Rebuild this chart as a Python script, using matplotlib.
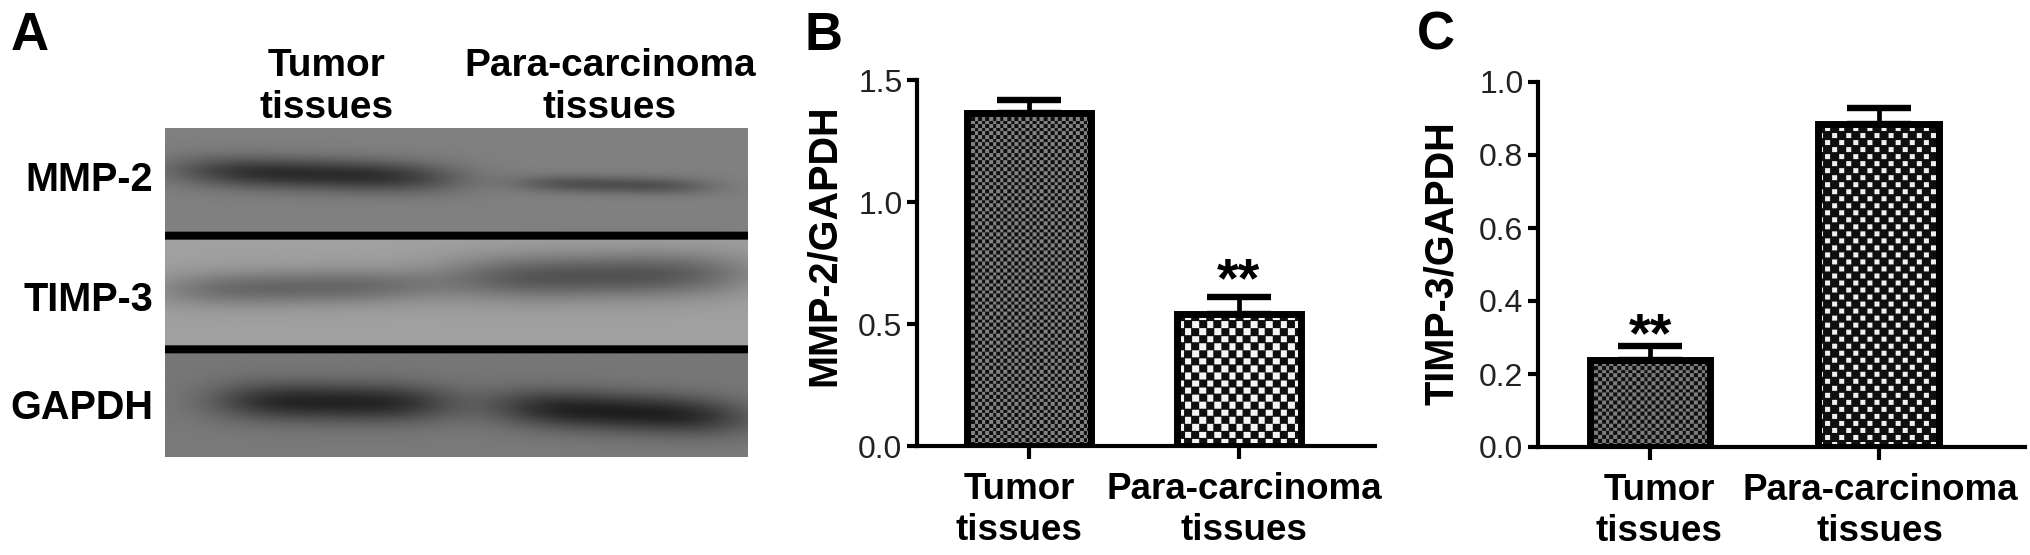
# -*- coding: utf-8 -*-
"""Western blot panel plus two bar charts (MMP-2 and TIMP-3 relative to GAPDH)."""
import numpy as np
import matplotlib
matplotlib.use("Agg")
import matplotlib.pyplot as plt
from matplotlib.transforms import ScaledTranslation

W, H = 2031, 555
DPI = 100

plt.rcParams["font.family"] = ["Liberation Sans", "DejaVu Sans"]

CATEGORIES = ["Tumor\ntissues", "Para-carcinoma\ntissues"]

MMP2_MEAN = [1.363, 0.543]
MMP2_ERR = [0.055, 0.068]
MMP2_TICKS = [0.0, 0.5, 1.0, 1.5]

TIMP3_MEAN = [0.237, 0.886]
TIMP3_ERR = [0.04, 0.043]
TIMP3_TICKS = [0.0, 0.2, 0.4, 0.6, 0.8, 1.0]

BLOT_ROWS = ["MMP-2", "TIMP-3", "GAPDH"]
# cx, cy, half width, half height, tilt, depth (fractions of the blot, grey levels)
BLOT_BANDS = [
    (0.26, 0.140, 0.235, 0.047, 0.05, 85),
    (0.77, 0.172, 0.165, 0.026, 0.03, 50),
    (0.23, 0.485, 0.235, 0.052, -0.03, 58),
    (0.74, 0.450, 0.255, 0.066, -0.03, 78),
    (0.29, 0.835, 0.200, 0.058, 0.02, 85),
    (0.78, 0.865, 0.215, 0.058, 0.08, 90),
]
BLOT_BG = [(0.0, 128), (0.326, 128), (0.336, 160), (0.665, 160), (0.675, 118), (1.0, 122)]
BLOT_LINES = [0.327, 0.673]


def add_axes_px(fig, x0, y0, x1, y1):
    # pixel box with y measured from the top
    return fig.add_axes([x0 / W, 1 - y1 / H, (x1 - x0) / W, (y1 - y0) / H])


def text_px(fig, x, y, s, **kw):
    fig.text(x / W, 1 - y / H, s, **kw)


def draw_blot(fig):
    ax = add_axes_px(fig, 165, 128, 748, 457)
    yy, xx = np.mgrid[0:1:330j, 0:1:584j]
    img = np.interp(yy, [b[0] for b in BLOT_BG], [b[1] for b in BLOT_BG])
    for cx, cy, hx, hy, tilt, depth in BLOT_BANDS:
        dx = (xx - cx) / hx
        dy = (yy - cy - tilt * (xx - cx)) / hy
        img = img - depth * np.exp(-np.abs(dx) ** 3.5) * np.exp(-dy ** 2)
    for ly in BLOT_LINES:
        img[np.abs(yy - ly) < 0.011] = 0
    ax.imshow(img, cmap="gray", vmin=0, vmax=255, aspect="auto",
              extent=[0, 1, 1, 0], interpolation="bilinear")
    ax.axis("off")


def fill_pattern(ax, bar, cell, duty, light):
    # staggered dots clipped to the bar, built pixel by pixel
    fig = ax.figure
    box = bar.get_window_extent(fig.canvas.get_renderer())
    r, c = np.indices((int(box.height), int(box.width)))
    u, v = r / cell, c / cell
    on = (u.astype(int) + v.astype(int)) % 2 == 0
    on &= (u % 1 < duty) & (v % 1 < duty)
    pat = np.where(on, light, 15)
    x0, x1 = bar.get_x(), bar.get_x() + bar.get_width()
    y0, y1 = bar.get_y(), bar.get_y() + bar.get_height()
    im = ax.imshow(pat, cmap="gray", vmin=0, vmax=255, aspect="auto", origin="lower",
                   extent=[x0, x1, y0, y1], interpolation="bilinear", zorder=1)
    im.set_clip_path(bar)


def draw_bars(fig, box, xlim, width, mean, err, yticks, ylim, ylabel, styles, star_i, star_y,
              label_dx, ylabel_xy):
    ax = add_axes_px(fig, *box)
    x = np.arange(len(mean))
    bars = ax.bar(x, mean, width=width, facecolor="none", edgecolor="black", linewidth=5.0, zorder=3)
    ax.errorbar(x, mean, yerr=[[0, 0], err], fmt="none", ecolor="black", elinewidth=3.4,
                capsize=23, capthick=4.6, zorder=2)
    ax.set_xlim(*xlim)
    ax.set_ylim(*ylim)
    fig.canvas.draw()
    for bar, (cell, duty, light) in zip(bars, styles):
        fill_pattern(ax, bar, cell, duty, light)
    ax.set_xlim(*xlim)
    ax.set_ylim(*ylim)
    for side in ["top", "right"]:
        ax.spines[side].set_visible(False)
    for side in ["left", "bottom"]:
        ax.spines[side].set_linewidth(3.0)
    ax.set_yticks(yticks)
    ax.set_yticklabels([f"{t:.1f}" for t in yticks], fontsize=23, color="#222222")
    ax.tick_params(axis="y", length=7.5, width=3.0, pad=3)
    ax.set_xticks(x)
    ax.set_xticklabels(CATEGORIES, fontsize=26.5, fontweight="bold", linespacing=1.2)
    ax.tick_params(axis="x", length=9, width=3.0, pad=10)
    for lab, dx in zip(ax.get_xticklabels(), label_dx):
        lab.set_transform(lab.get_transform() + ScaledTranslation(dx / DPI, 0, fig.dpi_scale_trans))
    ax.text(x[star_i], star_y, "**", fontsize=40, fontweight="bold", ha="center", va="center")
    text_px(fig, ylabel_xy[0], ylabel_xy[1], ylabel, fontsize=28.5, fontweight="bold",
            rotation=90, ha="center", va="center")
    ax.patch.set_alpha(0)


def main():
    fig = plt.figure(figsize=(W / DPI, H / DPI), dpi=DPI, facecolor="white")

    draw_blot(fig)
    for name, y in zip(BLOT_ROWS, [180, 300, 408]):
        text_px(fig, 153, y, name, fontsize=28.5, fontweight="bold", ha="right", va="center")
    text_px(fig, 327, 87, "Tumor\ntissues", fontsize=28, fontweight="bold", ha="center",
            va="center", linespacing=1.2)
    text_px(fig, 610, 87, "Para-carcinoma\ntissues", fontsize=28, fontweight="bold", ha="center",
            va="center", linespacing=1.2)

    for s, x in zip("ABC", [11, 805, 1417]):
        text_px(fig, x, 36, s, fontsize=38, fontweight="bold", ha="left", va="center")

    draw_bars(fig, (917, 80, 1375, 446), (-0.533, 1.648), 0.59, MMP2_MEAN, MMP2_ERR, MMP2_TICKS,
              (0, 1.5), "MMP-2/GAPDH", [(3.6, 1.0, 130), (7.3, 0.9, 245)], 1, 0.672, [-10, 5], (824, 245))
    draw_bars(fig, (1538, 82, 2025, 447), (-0.489, 1.638), 0.528, TIMP3_MEAN, TIMP3_ERR, TIMP3_TICKS,
              (0, 1.0), "TIMP-3/GAPDH", [(3.8, 1.0, 125), (7.0, 0.7, 240)], 0, 0.302, [9, 1], (1442, 263))

    fig.savefig("out.png", dpi=DPI, facecolor="white")
    plt.close(fig)


if __name__ == "__main__":
    main()
